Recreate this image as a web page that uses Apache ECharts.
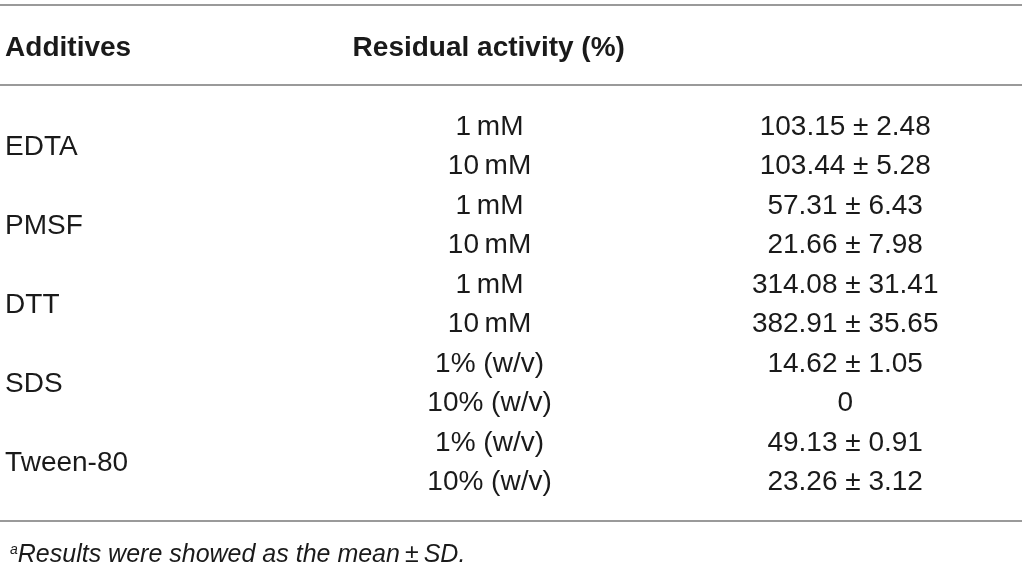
<!DOCTYPE html>
<html>
<head>
<meta charset="utf-8">
<title>Residual activity</title>
<script src="https://cdn.jsdelivr.net/npm/echarts@6/dist/echarts.min.js"></script>
<style>
  html, body { margin: 0; padding: 0; background: #fff; }
  #chart { width: 1022px; height: 573px; }
</style>
</head>
<body>
<div id="chart"></div>
<script>
// ----- data -----
var headers = ['Additives', 'Residual activity (%)'];
var additives = ['EDTA', 'PMSF', 'DTT', 'SDS', 'Tween-80'];
var concentrations = ['1\u2009mM', '10\u2009mM', '1\u2009mM', '10\u2009mM', '1\u2009mM', '10\u2009mM',
    '1% (w/v)', '10% (w/v)', '1% (w/v)', '10% (w/v)'];
var means = [103.15, 103.44, 57.31, 21.66, 314.08, 382.91, 14.62, 0, 49.13, 23.26];
var sds = [2.48, 5.28, 6.43, 7.98, 31.41, 35.65, 1.05, null, 0.91, 3.12];
var footnote = 'Results were showed as the mean\u2009\u00b1\u2009SD.';

// ----- layout (x in % of width, y in row units) -----
var col = { additive: 0.5, header2: 34.5, conc: 47.9, value: 82.7 };
var rowY = { top: -3.09, header: -2, rule: -1.06, bottom: 9.97 };
var textColor = '#1a1a1a';
var font = 'Liberation Sans, Arial, sans-serif';

function fmt(m, s) {
    return s == null ? String(m) : m.toFixed(2) + ' \u00b1 ' + s.toFixed(2);
}

var headerData = [
    { value: [col.additive, rowY.header], name: headers[0] },
    { value: [col.header2, rowY.header], name: headers[1] }
];
var additiveData = additives.map(function (a, i) {
    return { value: [col.additive, i * 2 + 0.5], name: a };
});
var concData = concentrations.map(function (c, i) {
    return { value: [col.conc, i], name: c };
});
var valueData = means.map(function (m, i) {
    return { value: [col.value, i], name: fmt(m, sds[i]) };
});

var baseLabel = {
    show: true,
    formatter: '{b}',
    color: textColor,
    opacity: 1,
    fontFamily: font,
    fontSize: 28
};

function textSeries(data, label) {
    return {
        type: 'scatter', symbolSize: 0, silent: true, data: data,
        itemStyle: { opacity: 1 },
        label: Object.assign({}, baseLabel, label)
    };
}

var headerSeries = textSeries(headerData, { position: 'right', distance: 0, fontWeight: 'bold' });
headerSeries.markLine = {
    silent: true, symbol: 'none', animation: false,
    label: { show: false },
    lineStyle: { color: '#9a9a9a', width: 2, type: 'solid', opacity: 1 },
    data: [{ yAxis: rowY.top }, { yAxis: rowY.rule }, { yAxis: rowY.bottom }]
};

var chart = echarts.init(document.getElementById('chart'), null, { renderer: 'canvas' });
chart.setOption({
    animation: false,
    backgroundColor: '#fff',
    title: {
        left: 5,
        top: 538,
        text: '{sup|a}{it|' + footnote + '}',
        textStyle: {
            fontWeight: 'normal',
            rich: {
                sup: { fontSize: 14, fontStyle: 'italic', fontWeight: 'normal', color: textColor, fontFamily: font, verticalAlign: 'top', padding: [0, 0, 10, 0] },
                it: { fontSize: 25, fontStyle: 'italic', fontWeight: 'normal', color: textColor, fontFamily: font }
            }
        }
    },
    grid: { left: 0, right: 0, top: 5, bottom: 52 },
    xAxis: { type: 'value', min: 0, max: 100, show: false },
    yAxis: { type: 'value', min: rowY.top, max: rowY.bottom, inverse: true, show: false },
    series: [
        headerSeries,
        textSeries(additiveData, { position: 'right', distance: 0 }),
        textSeries(concData, { position: 'inside' }),
        textSeries(valueData, { position: 'inside' })
    ]
});
</script>
</body>
</html>
